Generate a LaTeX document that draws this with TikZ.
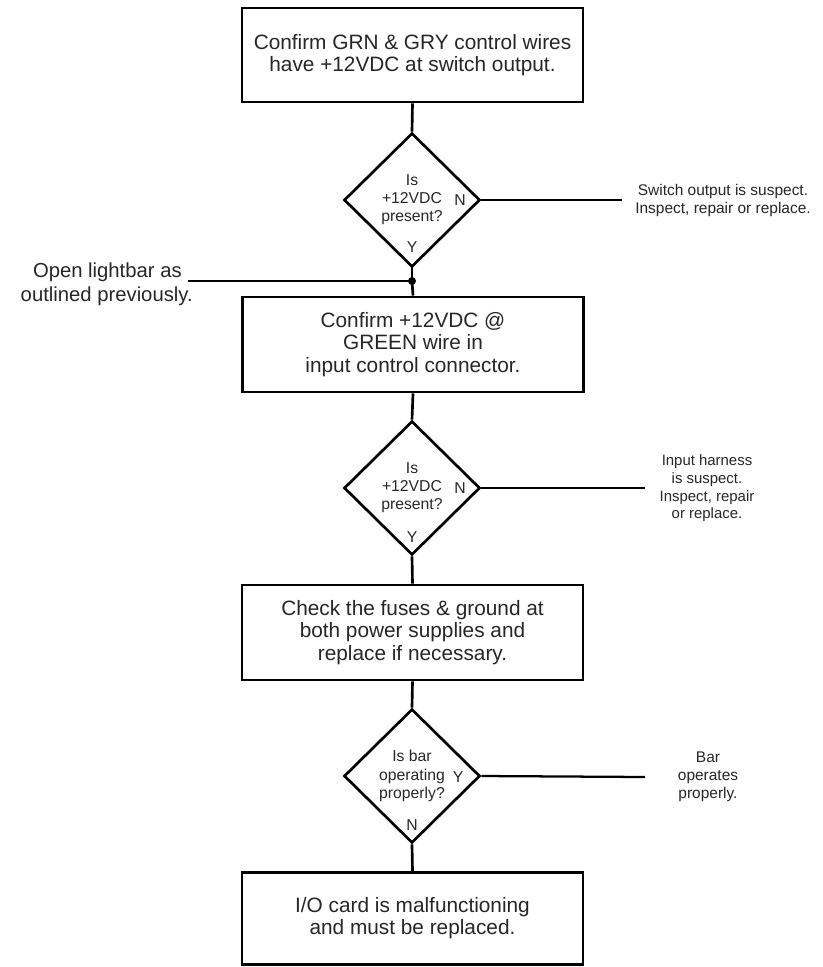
\documentclass[tikz,border=0pt]{standalone}
\usepackage{fontspec}
\setmainfont{Liberation Sans}
\usetikzlibrary{shapes.geometric}
\begin{document}
\begin{tikzpicture}[x=0.75pt,y=-0.75pt,
  box/.style={draw, line width=2.2pt, rectangle, inner sep=0pt, minimum width=255.75pt, align=center, text=black!85, font=\fontsize{15.6}{16.6}\selectfont},
  dia/.style={draw, line width=2pt, diamond, inner sep=0pt, minimum width=102pt, minimum height=100.5pt, align=center, text=black!85, font=\fontsize{11.8}{13.6}\selectfont},
  lbl/.style={inner sep=0pt, text=black!85, font=\fontsize{11.8}{13.6}\selectfont},
  side/.style={inner sep=0pt, align=center, text=black!85, font=\fontsize{11.6}{13.5}\selectfont},
  conn/.style={line width=2pt},
  branch/.style={line width=1.7pt}]
\useasboundingbox (0,0) rectangle (822,967);

% boxes
\node[box, minimum height=70.5pt] (b1) at (412.5,55) {Confirm GRN \& GRY control wires\\have +12VDC at switch output.};
\node[box, minimum height=71.25pt] (b2) at (413,344.5) {Confirm +12VDC @\\GREEN wire in\\input control connector.};
\node[box, minimum height=71.25pt] (b3) at (412.5,632.5) {Check the fuses \& ground at\\both power supplies and\\replace if necessary.};
\node[box, minimum height=69pt] (b4) at (412.5,918.5) {I/O card is malfunctioning\\and must be replaced.};

% diamonds
\node[dia] (d1) at (412,200) {Is\\+12VDC\\present?};
\node[dia] (d2) at (412,488) {Is\\+12VDC\\present?};
\node[dia] (d3) at (412,776) {Is bar\\operating\\properly?};

% Y / N labels
\node[lbl] (n1) at (460,200) {N};
\node[lbl] (y1) at (412,247) {Y};
\node[lbl] (n2) at (460,488) {N};
\node[lbl] (y2) at (412,537) {Y};
\node[lbl] (y3) at (458,777) {Y};
\node[lbl] (n3) at (412,825) {N};

% junction
\coordinate (j) at (412,281);
\fill (j) circle (3pt);
\coordinate (l0) at (188,281);
\node[inner sep=0pt, anchor=east, align=right, text=black!85, font=\fontsize{15.2}{18}\selectfont] (open) at (193,284)
  {Open lightbar as\hspace*{8.25pt}\\outlined previously.};

% main connectors
\draw[conn] (b1.south) -- (d1.north);
\draw[conn] (d1.south) -- (j);
\draw[conn] (j) -- (b2.north);
\draw[conn] (b2.south) -- (d2.north);
\draw[conn] (d2.south) -- (b3.north);
\draw[conn] (b3.south) -- (d3.north);
\draw[conn] (d3.south) -- (b4.north);
\draw[branch] (l0) -- (j);

% side branches
\coordinate (s1) at (622,200);
\coordinate (s2) at (645,488);
\coordinate (s3) at (645,777);
\draw[branch] (d1.east) -- (s1);
\draw[branch] (d2.east) -- (s2);
\draw[branch] (d3.east) -- (s3);
\node[side] (t1) at (723,200) {Switch output is suspect.\\Inspect, repair or replace.};
\node[side, font=\fontsize{11.2}{13.2}\selectfont] (t2) at (707,488.5) {Input harness\\is suspect.\\Inspect, repair\\or replace.};
\node[side] (t3) at (708,776.5) {Bar\\operates\\properly.};
\end{tikzpicture}
\end{document}
